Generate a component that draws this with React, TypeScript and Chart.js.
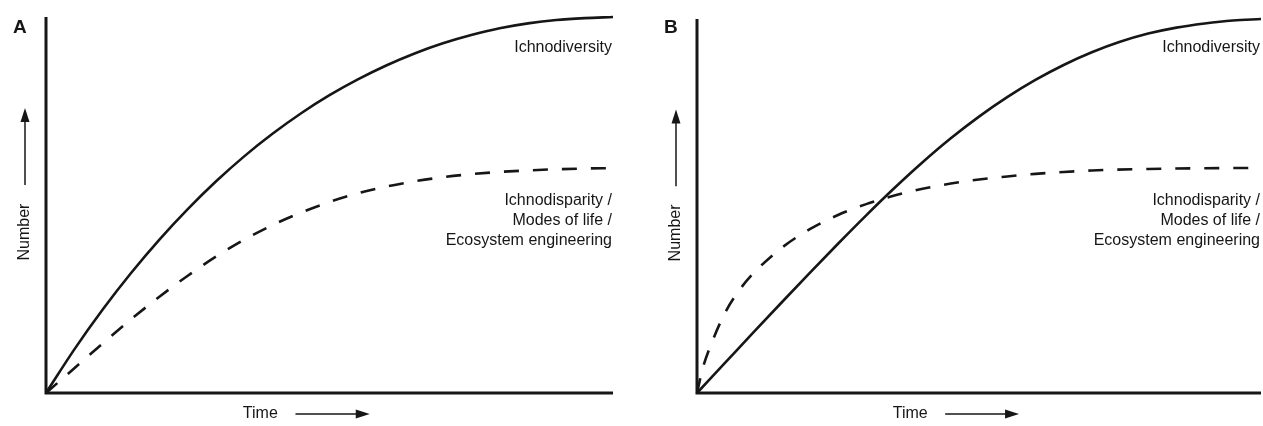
import React, { useEffect, useRef } from "react";
import { Chart, registerables } from "chart.js";

Chart.register(...registerables);

// ---- data (time in % of plot width, number in % of plot height) ----
const timeSteps = [0, 5, 10, 15, 20, 25, 30, 35, 40, 45, 50, 55, 60, 65, 70, 75, 80, 85, 90, 95, 100];
const diversityA = [0, 11.6, 22.2, 31.9, 40.8, 48.9, 56.3, 63, 69, 74.4, 79.2, 83.4, 87.1, 90.3, 93, 95.2, 97, 98.3, 99.2, 99.7, 100];
const disparityA = [0, 6.6, 13.2, 19.6, 25.6, 31.2, 36.3, 40.8, 44.7, 48, 50.8, 53.1, 54.9, 56.3, 57.4, 58.2, 58.8, 59.2, 59.5, 59.7, 59.8];
const diversityB = [0, 8.1, 16.2, 24.2, 32.1, 39.9, 47.5, 54.8, 61.7, 68.1, 73.9, 79.1, 83.7, 87.7, 91.1, 93.9, 96.1, 97.7, 98.8, 99.6, 100];
const timeStepsDisparityB = [0, 1, 2.5, 5, 7.5, 10, 15, 20, 25, 30, 35, 40, 45, 50, 55, 60, 65, 70, 80, 90, 100];
const disparityB = [0, 6.5, 13, 21.5, 27.5, 32, 38.8, 43.8, 47.6, 50.5, 52.8, 54.6, 56, 57.1, 57.9, 58.6, 59.1, 59.5, 59.9, 60.1, 60.2];

const panelLetters = ["A", "B"];
const curveLabelTop = "Ichnodiversity";
const curveLabelLines = ["Ichnodisparity /", "Modes of life /", "Ecosystem engineering"];
const xAxisTitle = "Time";
const yAxisTitle = "Number";

const FONT = "'Liberation Sans', Arial, Helvetica, sans-serif";
const INK = "#161616";

function toPoints(xs: number[], ys: number[]) {
  return xs.map((x, i) => ({ x, y: ys[i] }));
}

function makeDecorPlugin(letter: string) {
  return {
    id: "decor" + letter,
    beforeDatasetsDraw(chart: any) {
      const { ctx, chartArea } = chart;
      const { left, right, top, bottom } = chartArea;
      ctx.save();
      ctx.strokeStyle = INK;
      ctx.lineWidth = 3;
      ctx.lineCap = "butt";
      ctx.beginPath();
      ctx.moveTo(left, top);
      ctx.lineTo(left, bottom);
      ctx.lineTo(right, bottom);
      ctx.stroke();
      ctx.restore();
    },
    afterDatasetsDraw(chart: any) {
      const { ctx, chartArea, scales } = chart;
      const xs = scales.x;
      const ys = scales.y;
      const { left, right, bottom } = chartArea;
      ctx.save();
      ctx.fillStyle = INK;
      ctx.strokeStyle = INK;

      // panel letter
      ctx.font = `bold 19px ${FONT}`;
      ctx.textAlign = "left";
      ctx.textBaseline = "alphabetic";
      ctx.fillText(letter, left - 33, 33);

      // curve labels
      ctx.font = `16px ${FONT}`;
      ctx.textAlign = "right";
      ctx.textBaseline = "middle";
      ctx.fillText(curveLabelTop, right - 1, 48);
      curveLabelLines.forEach((t, i) => ctx.fillText(t, right - 1, 201 + i * 20));

      // x axis title + arrow
      const ty = bottom + 21;
      ctx.textAlign = "center";
      ctx.fillText(xAxisTitle, xs.getPixelForValue(37.8), ty);
      const ax0 = xs.getPixelForValue(44);
      const ax1 = xs.getPixelForValue(57.1);
      ctx.lineWidth = 1.5;
      ctx.beginPath();
      ctx.moveTo(ax0, ty);
      ctx.lineTo(ax1 - 10, ty);
      ctx.stroke();
      ctx.beginPath();
      ctx.moveTo(ax1, ty);
      ctx.lineTo(ax1 - 14, ty - 4.5);
      ctx.lineTo(ax1 - 14, ty + 4.5);
      ctx.closePath();
      ctx.fill();

      // y axis title + arrow
      const tx = left - 21;
      ctx.save();
      ctx.translate(tx, ys.getPixelForValue(42.8));
      ctx.rotate(-Math.PI / 2);
      ctx.textAlign = "center";
      ctx.textBaseline = "middle";
      ctx.fillText(yAxisTitle, 0, 0);
      ctx.restore();
      const ay0 = ys.getPixelForValue(55.3);
      const ay1 = ys.getPixelForValue(75.8);
      ctx.beginPath();
      ctx.moveTo(tx, ay0);
      ctx.lineTo(tx, ay1 + 10);
      ctx.stroke();
      ctx.beginPath();
      ctx.moveTo(tx, ay1);
      ctx.lineTo(tx - 4.5, ay1 + 14);
      ctx.lineTo(tx + 4.5, ay1 + 14);
      ctx.closePath();
      ctx.fill();
      ctx.restore();
    },
  };
}

function Panel(props: {
  letter: string;
  solid: { x: number; y: number }[];
  dashed: { x: number; y: number }[];
  left: number;
  width: number;
  padding: { left: number; right: number; top: number; bottom: number };
}) {
  const ref = useRef<HTMLCanvasElement | null>(null);
  useEffect(() => {
    if (!ref.current) return;
    const chart = new Chart(ref.current, {
      type: "line",
      data: {
        datasets: [
          {
            data: props.solid,
            borderColor: INK,
            borderWidth: 2.6,
            pointRadius: 0,
            cubicInterpolationMode: "monotone",
            clip: false,
          } as any,
          {
            data: props.dashed,
            borderColor: INK,
            borderWidth: 2.6,
            borderDash: [15, 14],
            pointRadius: 0,
            cubicInterpolationMode: "monotone",
            clip: false,
          } as any,
        ],
      },
      options: {
        animation: false,
        responsive: false,
        maintainAspectRatio: false,
        events: [],
        layout: { padding: props.padding },
        plugins: { legend: { display: false }, tooltip: { enabled: false } },
        scales: {
          x: { type: "linear", min: 0, max: 100, display: false },
          y: { type: "linear", min: 0, max: 100, display: false },
        },
      },
      plugins: [makeDecorPlugin(props.letter)],
    });
    return () => chart.destroy();
  }, []);
  return (
    <canvas
      ref={ref}
      width={props.width}
      height={426}
      style={{ position: "absolute", left: props.left, top: 0, width: props.width, height: 426 }}
    />
  );
}

export default function App() {
  return (
    <div style={{ position: "fixed", left: 0, top: 0, width: 1263, height: 426, background: "#fff" }}>
      <Panel
        letter={panelLetters[0]}
        solid={toPoints(timeSteps, diversityA)}
        dashed={toPoints(timeSteps, disparityA)}
        left={0}
        width={640}
        padding={{ left: 46, right: 27, top: 17, bottom: 33 }}
      />
      <Panel
        letter={panelLetters[1]}
        solid={toPoints(timeSteps, diversityB)}
        dashed={toPoints(timeStepsDisparityB, disparityB)}
        left={640}
        width={623}
        padding={{ left: 57, right: 2, top: 19, bottom: 33 }}
      />
    </div>
  );
}
